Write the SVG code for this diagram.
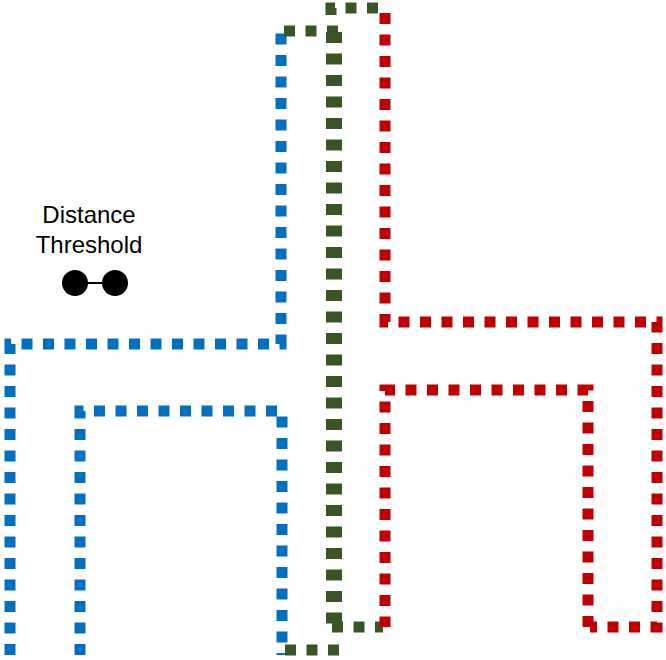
<svg xmlns="http://www.w3.org/2000/svg" width="666" height="660" viewBox="0 0 666 660">
<style>
.o{fill:none;stroke-width:11;stroke-dasharray:11 10.5}
.w{stroke-width:16}
.b{stroke:#0070C0}
.g{stroke:#375623}
.r{stroke:#C00000}
.t{font-family:"Liberation Sans",Arial,sans-serif;font-size:24px;fill:#000;text-anchor:middle}
</style>
<rect width="666" height="660" fill="#fff"/>
<g id="connectors">
<path id="blue-outer" class="o b" d="M10,655 V344 H281 V32"/>
<path id="blue-inner" class="o b" d="M80,655 V411 H282 V655"/>
<path id="green-top-left" class="o g" d="M284,31 H340"/>
<path id="green-top-right" class="o g" d="M331,15 V8 H384"/>
<path id="green-stem" class="o g w" d="M334,32 V627"/>
<path id="green-bottom-right" class="o g" d="M332,627 H383"/>
<path id="green-bottom-left" class="o g" d="M285,650 H342"/>
<path id="red-outer" class="o r" d="M385,13 V322 H657 V627 H590"/>
<path id="red-inner" class="o r" d="M588,627 V390 H385 V627"/>
</g>
<g id="threshold">
<text class="t" x="89" y="223">Distance</text>
<text class="t" x="89" y="253">Threshold</text>
<line x1="75" y1="283" x2="115" y2="283" stroke="#000" stroke-width="2"/>
<circle cx="75" cy="283" r="13" fill="#000"/>
<circle cx="115" cy="283" r="13" fill="#000"/>
</g>
</svg>
